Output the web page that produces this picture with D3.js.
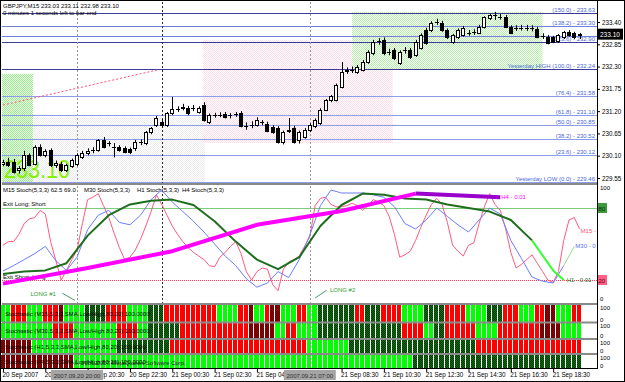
<!DOCTYPE html>
<html>
<head>
<style>
body { margin: 0; background: #fff; }
svg text { font-family: "Liberation Sans", Arial, sans-serif; }
.t6 { font-size: 6px; }
.axis text { font-size: 6.3px; fill: #000; }
.axis line { stroke: #000; }
</style>
</head>
<body>
<svg width="625" height="382"></svg>
<script src="https://d3js.org/d3.v7.min.js"></script>
<script>
// GBPJPY M15, 110 bars, 20 Sep 16:30 .. 21 Sep 19:45
var opens = [229.90,229.95,229.94,229.74,229.80,230.11,229.90,230.31,230.11,230.24,
  229.87,229.90,229.74,229.84,229.88,230.07,230.16,230.23,230.24,230.49,
  230.40,230.31,230.31,230.29,230.26,230.29,230.43,230.41,230.68,230.86,
  230.93,230.86,231.15,231.25,231.28,231.28,231.27,231.18,231.35,230.93,
  231.10,231.11,231.13,231.09,231.12,231.15,230.83,230.85,230.86,230.91,
  230.88,230.81,230.78,230.44,230.72,230.78,230.49,230.56,230.73,230.83,
  230.91,231.23,231.47,231.47,231.80,232.20,232.22,232.17,232.22,232.41,
  232.63,232.91,232.96,232.66,232.71,232.39,232.70,232.71,232.59,232.76,
  233.20,233.20,233.39,233.38,233.20,232.91,233.03,233.08,233.12,233.14,
  233.13,233.28,233.50,233.56,233.53,233.52,233.28,233.24,233.25,233.26,
  233.25,233.23,233.04,233.03,233.03,232.93,233.03,233.15,233.12,233.08];
var highs = [230.00,230.05,230.02,229.84,230.22,230.16,230.36,230.38,230.26,230.28,
  229.98,229.95,229.90,230.03,230.16,230.22,230.28,230.31,230.51,230.56,
  230.46,230.41,230.36,230.33,230.30,230.49,230.50,230.71,230.81,231.08,
  231.00,231.18,231.55,231.32,231.38,231.33,231.35,231.32,231.42,231.14,
  231.16,231.17,231.18,231.15,231.18,231.20,230.92,230.95,231.05,230.98,
  230.94,230.85,230.83,230.72,231.03,230.84,230.72,230.78,230.90,231.02,
  231.27,231.50,231.60,231.88,232.41,232.28,232.30,232.34,232.46,232.70,
  232.96,233.00,233.02,232.74,232.76,232.70,232.78,232.76,232.96,233.12,
  233.26,233.42,233.48,233.43,233.24,233.10,233.24,233.30,233.20,233.22,
  233.33,233.54,233.60,233.65,233.60,233.57,233.32,233.32,233.33,233.33,
  233.32,233.28,233.12,233.08,233.06,233.10,233.18,233.20,233.16,233.13];
var lows = [229.84,229.82,229.66,229.66,229.72,229.84,229.86,230.08,230.06,229.82,
  229.80,229.70,229.70,229.80,229.84,230.02,230.11,230.16,230.20,230.28,
  230.33,230.06,230.20,230.16,230.14,230.22,230.36,230.36,230.63,230.81,
  230.80,230.81,231.10,231.18,231.22,231.10,231.20,231.14,230.94,230.88,
  231.04,231.05,231.02,231.02,231.06,230.80,230.74,230.78,230.82,230.85,
  230.68,230.64,230.40,230.38,230.66,230.40,230.40,230.52,230.68,230.78,
  230.86,231.20,231.42,231.44,231.76,232.12,232.14,232.12,232.18,232.37,
  232.58,232.84,232.58,232.58,232.46,232.34,232.62,232.49,232.54,232.72,
  232.84,233.15,233.33,233.16,232.98,232.86,232.98,233.04,233.06,233.08,
  233.10,233.24,233.45,233.45,233.46,233.25,233.10,233.18,233.19,233.18,
  233.17,233.00,232.98,232.85,232.88,232.88,232.98,233.04,232.98,232.98];
var closes = [229.95,229.88,229.69,229.80,230.11,229.87,230.31,230.11,230.22,229.87,
  229.92,229.74,229.86,229.99,230.11,230.16,230.22,230.24,230.49,230.31,
  230.41,230.30,230.24,230.19,230.19,230.44,230.44,230.68,230.78,231.03,
  230.86,231.15,231.25,231.26,231.30,231.15,231.28,231.28,230.98,231.10,
  231.10,231.10,231.05,231.10,231.13,230.83,230.83,230.86,230.98,230.92,
  230.71,230.68,230.44,230.68,230.74,230.44,230.68,230.73,230.86,230.98,
  231.23,231.47,231.57,231.84,232.17,232.22,232.21,232.29,232.41,232.66,
  232.91,232.92,232.63,232.65,232.51,232.66,232.71,232.54,232.91,233.08,
  232.88,233.38,233.40,233.20,233.03,233.08,233.20,233.25,233.13,233.15,
  233.28,233.52,233.57,233.57,233.52,233.28,233.13,233.25,233.26,233.25,
  233.24,233.03,233.05,232.88,232.91,233.07,233.15,233.08,233.03,233.10];

var priceTicks = [233.40, 232.85, 232.30, 231.75, 231.20, 230.65, 230.10, 229.55];
var lastPrice = 233.10;

// fibo levels (from yesterday's range 229.46 - 232.24)
var fibPrices = [233.63, 233.30, 232.90, 232.24, 231.58, 231.10, 230.85, 230.52, 230.12, 229.46];
var fibLabels = ["(150.0) - 233.63", "(138.2) - 233.30", "(123.6) - 232.90", "Yesterday HIGH (100.0) - 232.24",
  "(76.4) - 231.58", "(61.8) - 231.10", "(50.0) - 230.85", "(38.2) - 230.52", "(23.6) - 230.12",
  "Yesterday LOW (0.0) - 229.46"];
var extraLines = [233.06];

// shaded boxes: [bar from, bar to, price top, price bottom]
var boxGreenLeft = [-1, 5.67, 232.12, 229.40];
var boxGrey = [5.67, 38.2, 231.05, 229.40];
var boxPink = [37.8, 73.7, 232.96, 230.41];
var boxGreenRight = [66, 102, 233.65, 232.22];
var trendFrom = [0, 231.35], trendTo = [29.3, 232.22];

var timeTickBars = [0, 8, 16, 24, 32, 40, 48, 64, 72, 80, 88, 96, 104];
var timeLabels = ["20 Sep 2007", "20 Sep 18:30", "20 Sep 20:30", "20 Sep 22:30", "21 Sep 00:30", "21 Sep 02:30",
  "21 Sep 04:30", "21 Sep 08:30", "21 Sep 10:30", "21 Sep 12:30", "21 Sep 14:30",
  "21 Sep 16:30", "21 Sep 18:30"];
var crossBars = [14, 58];
var crossLabels = ["2007.09.20 20:00", "2007.09.21 07:00"];
var daySepBar = 30;

// stochastics of four timeframes
var m15Stoch = [49,52,52,58,67,71,72,78,75,52, 36,20,28,37,45,67,87,89,92,82,
  72,59,47,37,39,45,54,65,77,91, 83,74,65,58,52,47,43,40,37,32,
  31,39,43,48,52,42,27,20,27,30, 29,16,11,29,35,37,40,48,56,82,
  88,89,83,81,81,82,84,82,78,82, 87,85,82,73,58,39,41,44,53,64,
  74,83,88,83,68,49,44,40,49,51, 67,81,92,83,78,63,43,30,33,37,
  41,34,27,20,18,27,53,70,72,62.5];
var m30Bars = [0,2,4,6,8,10,12,14,16,18,20,22,24,26,28,30,32,34,36,38,40,42,44,46,48,50,52,54,
  56,58,60,62,64,66,68,70,72,74,76,78,80,82,84,86,88,90,92,94,96,98,100,102,104,106,108];
var m30Stoch = [27.5,32,37,42,48,36,28,39,62,74, 78,68,66,74,87,95,85,77,69,60,
  50,40,32,21,14,17.5,27,22,37,57.5, 82,95,92.5,92.5,92.5,91,89,81,67,62.5,
  70,80,73,66,60,70,80,75,53,38, 22.5,19,17.5,32,48];
var h1Bars = [0,4,8,12,16,20,24,28,32,36,40,44,48,52,56,60,64,68,72,76,80,84,88,92,96,100,104,106];
var h1Stoch = [25,27,28,34,57,74,83,86,87,82.5,69,52,37,29,39,65,82.5,92,91,88,87,83,80,77,70,53,28,20];
var h4Bars = [0, 16, 32, 48, 64, 78, 94];
var h4Stoch = [17, 30, 44, 66, 77.5, 92, 89];

// signal strips: G rising, R falling, D above 80, M below 20
var stripNames = ["Stochastic (M15,5,3,3,SMA,Low/High,80,20) 100.0000",
  "Stochastic (M30,5,3,3,SMA,Low/High,80,20) 100.0000",
  "Stochastic (H1,5,3,3,SMA,Low/High,80,20) 100.0000",
  "Stochastic (H4,5,3,3,SMA,Low/High,80,20) 100.0000"];
var stripM15 = "GGRRRGGGRR" + "RMGGGGDDDD" + "RRRRGGGGDD" + "DRRRRRRRRR" + "RGGGGRRMGG" + "RMMGGGRRGG" +
  "DDDDDDDRRD" + "DDRRRRGGGG" + "DDDDRRRRGG" + "GGDDDRRRGG" + "GRRMMGGGRR";
var stripM30 = "GGGGGGGGGG" + "RRRRGGGGGG" + "GGRRRRGGDD" + "DDDDRRRRRR" + "RRRRRRRMMM" + "MMGGRRGGGG" +
  "DDDDDDDDDD" + "DDDDDDRRRR" + "GGDDRRRRRR" + "GGGGRRRRRR" + "RRMMMMGGGG";
var stripH1 = "MMMMMMGGGG" + "GGGGGGGGGG" + "GGDDDDDDDD" + "DDRRRRRRRR" + "RRRRRRRRRR" + "RRRRRRRRGG" +
  "GGGGGGDDDD" + "DDDDDDDDDD" + "DDDDDDDDDD" + "RRRRRRRRRR" + "RRRRRRRRRR";
var stripH4 = "MMMMMMMMMM" + "MMMMGGGGGG" + "GGGGGGGGGG" + "GGGGGGGGGG" + "GGGGGGGGGG" + "GGGGGGGGGG" +
  "GGGGGGGGGG" + "GGGGGGGGDD" + "DDDDDDDDDD" + "DDDDDDDDDD" + "DDDDDDDDDD";

var svg = d3.select("svg");
var right = 597;

var x = d3.scaleLinear().domain([0, 109]).range([3, 579.6]);
var yP = d3.scaleLinear().domain([229.55, 233.40]).range([178, 22]);
var yS = d3.scaleLinear().domain([0, 100]).range([304, 184]);

var defs = svg.append("defs");
function checker(id, a, b) {
  var p = defs.append("pattern").attr("id", id).attr("width", 2).attr("height", 2)
    .attr("patternUnits", "userSpaceOnUse");
  p.append("rect").attr("width", 2).attr("height", 2).attr("fill", b);
  p.append("rect").attr("width", 1).attr("height", 1).attr("fill", a);
  p.append("rect").attr("x", 1).attr("y", 1).attr("width", 1).attr("height", 1).attr("fill", a);
}
checker("gL", "#9cee8c", "#effff0");
checker("gR", "#b2f2a6", "#ffffff");
checker("pk", "#ffdce8", "#ffffff");
checker("gy", "#ececec", "#ffffff");
checker("dg", "#0e700e", "#003600");
checker("dr", "#960000", "#5c0000");
defs.append("clipPath").attr("id", "cMain").append("rect").attr("x", 2).attr("y", 2).attr("width", right - 2).attr("height", 181);
defs.append("clipPath").attr("id", "cStoch").append("rect").attr("x", 2).attr("y", 186).attr("width", right - 2).attr("height", 117);

svg.append("rect").attr("width", 625).attr("height", 382).attr("fill", "#fff");

// ---------- main price window ----------
var main = svg.append("g").attr("clip-path", "url(#cMain)");

function box(b, fill) {
  main.append("rect")
    .attr("x", x(b[0])).attr("y", yP(b[2]))
    .attr("width", x(b[1]) - x(b[0])).attr("height", yP(b[3]) - yP(b[2]))
    .attr("fill", fill);
}
box(boxGrey, "url(#gy)");
box(boxGreenLeft, "url(#gL)");
box(boxPink, "url(#pk)");
box(boxGreenRight, "url(#gR)");

main.append("text")
  .attr("x", 4).attr("y", 178)
  .attr("fill", "#86f000")
  .attr("textLength", 66).attr("lengthAdjust", "spacingAndGlyphs")
  .style("font-size", "26px")
  .text(d3.format(".2f")(lastPrice));

main.selectAll(".fib").data(fibPrices).enter().append("line")
  .attr("x1", 2).attr("x2", right)
  .attr("y1", d => Math.round(yP(d)) + 0.5).attr("y2", d => Math.round(yP(d)) + 0.5)
  .attr("stroke", (d, i) => (i == 0 || i == 2 || i == 3) ? "#3c3c96" : (i < 2 ? "#7080d8" : "#8c9ce8"));
main.selectAll(".xl").data(extraLines).enter().append("line")
  .attr("x1", 2).attr("x2", right)
  .attr("y1", d => Math.round(yP(d)) + 0.5).attr("y2", d => Math.round(yP(d)) + 0.5)
  .attr("stroke", "#7080d8");

main.selectAll(".fibt").data(fibLabels).enter().append("text")
  .attr("class", "t6")
  .attr("x", 595).attr("y", (d, i) => Math.round(yP(fibPrices[i])) - 1)
  .attr("text-anchor", "end")
  .attr("fill", "#4a68d4")
  .text(d => d);

// vertical markers
main.selectAll(".vx").data(crossBars).enter().append("line")
  .attr("x1", d => Math.round(x(d)) + 0.5).attr("x2", d => Math.round(x(d)) + 0.5)
  .attr("y1", 2).attr("y2", 183)
  .attr("stroke", "#9a9a9a").attr("stroke-dasharray", "2,2");
main.append("line")
  .attr("x1", Math.round(x(daySepBar)) + 0.5).attr("x2", Math.round(x(daySepBar)) + 0.5)
  .attr("y1", 2).attr("y2", 183)
  .attr("stroke", "#303030").attr("stroke-dasharray", "2,2");

main.append("line")
  .attr("x1", x(trendFrom[0])).attr("y1", yP(trendFrom[1]))
  .attr("x2", x(trendTo[0])).attr("y2", yP(trendTo[1]))
  .attr("stroke", "#ff4d7a").attr("stroke-dasharray", "2,2");

// candles
var candles = main.append("g").selectAll("g").data(opens).enter().append("g");
candles.append("line")
  .attr("x1", (d, i) => Math.round(x(i)) + 0.5).attr("x2", (d, i) => Math.round(x(i)) + 0.5)
  .attr("y1", (d, i) => yP(highs[i])).attr("y2", (d, i) => yP(lows[i]))
  .attr("stroke", "#000");
candles.append("rect")
  .attr("x", (d, i) => Math.round(x(i)) - 1.5)
  .attr("y", (d, i) => Math.round(yP(Math.max(opens[i], closes[i]))) + 0.5)
  .attr("width", 3)
  .attr("height", (d, i) => Math.max(0.01, Math.round(Math.abs(yP(opens[i]) - yP(closes[i])))))
  .attr("fill", (d, i) => closes[i] >= opens[i] ? "#fff" : "#000")
  .attr("stroke", "#000");

svg.append("text").attr("class", "t6").attr("x", 3).attr("y", 8)
  .text("GBPJPY,M15  233.03 233.11 232.98 " + d3.format(".2f")(lastPrice));
svg.append("text").attr("class", "t6").attr("x", 3).attr("y", 15)
  .text("0 minutes 1 seconds left to bar end");

// price axis
var pAxis = svg.append("g").attr("class", "axis")
  .attr("transform", "translate(" + right + ",0)")
  .call(d3.axisRight(yP).tickValues(priceTicks).tickSize(3).tickPadding(2).tickFormat(d3.format(".2f")));
pAxis.select(".domain").remove();
svg.append("rect").attr("x", right).attr("y", yP(lastPrice) - 5.5).attr("width", 26).attr("height", 11).attr("fill", "#000");
svg.append("text").attr("x", right + 3).attr("y", yP(lastPrice) + 2.5)
  .attr("fill", "#fff").style("font-size", "6.5px").text(d3.format(".2f")(lastPrice));

// ---------- stochastic window ----------
var st = svg.append("g").attr("clip-path", "url(#cStoch)");
st.append("line").attr("x1", 2).attr("x2", right).attr("y1", yS(80) + 0.5).attr("y2", yS(80) + 0.5).attr("stroke", "#7ccc7c");
st.append("line").attr("x1", 2).attr("x2", right).attr("y1", yS(20) + 0.5).attr("y2", yS(20) + 0.5)
  .attr("stroke", "#ff3a60").attr("stroke-dasharray", "1,1");
st.selectAll(".vx").data(crossBars).enter().append("line")
  .attr("x1", d => Math.round(x(d)) + 0.5).attr("x2", d => Math.round(x(d)) + 0.5)
  .attr("y1", 186).attr("y2", 304)
  .attr("stroke", "#9a9a9a").attr("stroke-dasharray", "2,2");
st.append("line")
  .attr("x1", Math.round(x(daySepBar)) + 0.5).attr("x2", Math.round(x(daySepBar)) + 0.5)
  .attr("y1", 186).attr("y2", 304)
  .attr("stroke", "#303030").attr("stroke-dasharray", "2,2");

st.append("text").attr("class", "t6").attr("x", 3).attr("y", yS(80) - 2).text("Exit Long; Short");
st.append("text").attr("class", "t6").attr("x", 3).attr("y", yS(20) - 1).text("Exit Short; Long");
st.append("text").attr("class", "t6").attr("x", 3).attr("y", 192).text("M15 Stoch(5,3,3) 62.5 69.0");
st.append("text").attr("class", "t6").attr("x", 84).attr("y", 192).text("M30 Stoch(5,3,3)");
st.append("text").attr("class", "t6").attr("x", 137).attr("y", 192).text("H1 Stoch(5,3,3)");
st.append("text").attr("class", "t6").attr("x", 182).attr("y", 192).text("H4 Stoch(5,3,3)");

var sLine = d3.line().x(d => x(d[0])).y(d => yS(d[1]));
function pairs(bars, vals, from, to) {
  var out = [];
  bars.forEach(function(b, i) { if (b >= from && b <= to) out.push([b, vals[i]]); });
  return out;
}
var m15Bars = opens.map((d, i) => i);

function drawLine(data, color, w) {
  st.append("path").datum(data).attr("d", sLine)
    .attr("fill", "none").attr("stroke", color).attr("stroke-width", w)
    .attr("stroke-linejoin", "round");
}
drawLine(pairs(m15Bars, m15Stoch, 0, 109), "#ff5a7e", 1);
drawLine(pairs(m30Bars, m30Stoch, 0, 106), "#6c7cff", 1);
drawLine(pairs(m30Bars, m30Stoch, 106, 108), "#8ee08e", 1);
drawLine(pairs(h1Bars, h1Stoch, 0, 100), "#1e6e1e", 2);
drawLine(pairs(h1Bars, h1Stoch, 100, 106), "#33ff33", 2);
drawLine(pairs(h4Bars, h4Stoch, 0, 78), "#ff00ff", 4);
drawLine(pairs(h4Bars, h4Stoch, 78, 94), "#9a00cc", 4);

st.append("text").attr("class", "t6").attr("x", x(109) + 1).attr("y", yS(62.5) + 4).attr("fill", "#ff4f78").text("M15 - 62.5");
st.append("text").attr("class", "t6").attr("x", x(108) + 1).attr("y", yS(48) + 2).attr("fill", "#5a6cff").text("M30 - 0");
st.append("text").attr("class", "t6").attr("x", x(106) + 3).attr("y", yS(20) + 2).attr("fill", "#1e6e1e").text("H1 - 0.01");
st.append("text").attr("class", "t6").attr("x", x(94) + 1).attr("y", yS(89) + 2).attr("fill", "#ff00ff").text("H4 - 0.01");

st.append("text").attr("class", "t6").attr("x", x(5.2)).attr("y", yS(7)).attr("fill", "#2e9a2e").text("LONG #1");
st.append("line").attr("x1", x(11.2)).attr("y1", yS(9)).attr("x2", x(13.6)).attr("y2", yS(3)).attr("stroke", "#4a9a6a");
st.append("text").attr("class", "t6").attr("x", x(61.8)).attr("y", yS(10)).attr("fill", "#2e9a2e").text("LONG #2");
st.append("line").attr("x1", x(61.2)).attr("y1", yS(11.5)).attr("x2", x(59)).attr("y2", yS(5)).attr("stroke", "#4a9a6a");

svg.append("text").attr("class", "t6").attr("x", right + 3).attr("y", yS(100) + 6).text("100");
svg.append("text").attr("class", "t6").attr("x", right + 3).attr("y", yS(0) - 3).text("0");
svg.append("rect").attr("x", right).attr("y", yS(80) - 5).attr("width", 10).attr("height", 10).attr("fill", "#3f9a3f");
svg.append("text").attr("class", "t6").attr("x", right + 1.5).attr("y", yS(80) + 2.5).attr("fill", "#002a00").text("80");
svg.append("rect").attr("x", right).attr("y", yS(20) - 5).attr("width", 10).attr("height", 10).attr("fill", "#ff5f86");
svg.append("text").attr("class", "t6").attr("x", right + 1.5).attr("y", yS(20) + 2.5).attr("fill", "#5a0010").text("20");

// ---------- signal strips ----------
var strips = [stripM15, stripM30, stripH1, stripH4];
var stripTop = [305, 323, 340, 355];
var stripH = [17, 15, 13, 13];
var cellFill = { G: "#00ff00", R: "#ff0000", D: "url(#dg)", M: "url(#dr)" };
var step = x(1) - x(0);

strips.forEach(function(s, r) {
  var g = svg.append("g");
  g.selectAll("rect").data(s.split("")).enter().append("rect")
    .attr("x", (d, i) => Math.round(x(i) - step / 2))
    .attr("y", stripTop[r])
    .attr("width", (d, i) => Math.round(x(i) + step / 2) - Math.round(x(i) - step / 2) - 1)
    .attr("height", stripH[r])
    .attr("fill", d => cellFill[d]);
  g.append("text").attr("class", "t6").attr("x", 5).attr("y", stripTop[r] + stripH[r] / 2 + 2.5)
    .text(stripNames[r]);
  svg.append("text").attr("class", "t6").attr("x", right + 3).attr("y", stripTop[r] + 5).text("100");
  svg.append("text").attr("class", "t6").attr("x", right + 3).attr("y", stripTop[r] + stripH[r] - 0.5).text("0");
});
svg.append("text").attr("class", "t6").attr("x", 75).attr("y", 365).attr("fill", "#202020")
  .text("\u00a9 2001-2007 MetaQuotes Software Corp.");

svg.selectAll(".vb").data(crossBars).enter().append("line")
  .attr("x1", d => Math.round(x(d)) + 0.5).attr("x2", d => Math.round(x(d)) + 0.5)
  .attr("y1", 304).attr("y2", 369)
  .attr("stroke", "#9a9a9a").attr("stroke-dasharray", "2,2");

// window separators and frame
[184, 304, 322.5, 339, 354].forEach(function(yy) {
  svg.append("line").attr("x1", 2).attr("x2", right).attr("y1", yy).attr("y2", yy)
    .attr("stroke", "#8a8a8a").attr("stroke-width", 2);
});
svg.append("line").attr("x1", 1).attr("x2", right).attr("y1", 368.5).attr("y2", 368.5).attr("stroke", "#000");
svg.append("line").attr("x1", right + 0.5).attr("x2", right + 0.5).attr("y1", 1).attr("y2", 369).attr("stroke", "#000");
svg.append("rect").attr("x", 0.5).attr("y", 0.5).attr("width", 624).attr("height", 381)
  .attr("fill", "none").attr("stroke", "#000");

// time axis
var tAxis = svg.append("g").attr("class", "axis")
  .attr("transform", "translate(0,369)")
  .call(d3.axisBottom(x).tickValues(timeTickBars).tickSize(3).tickPadding(2)
    .tickFormat((d, i) => timeLabels[i]));
tAxis.select(".domain").remove();
tAxis.selectAll("text").attr("text-anchor", "start").attr("dx", -1).attr("y", 4);

crossBars.forEach(function(b, i) {
  svg.append("rect").attr("x", x(b) - 26).attr("y", 370).attr("width", 52).attr("height", 10).attr("fill", "#a4a4a4");
  svg.append("text").attr("class", "t6").attr("x", x(b)).attr("y", 377.5).attr("text-anchor", "middle")
    .attr("fill", "#303030").text(crossLabels[i]);
});
</script>
</body>
</html>
